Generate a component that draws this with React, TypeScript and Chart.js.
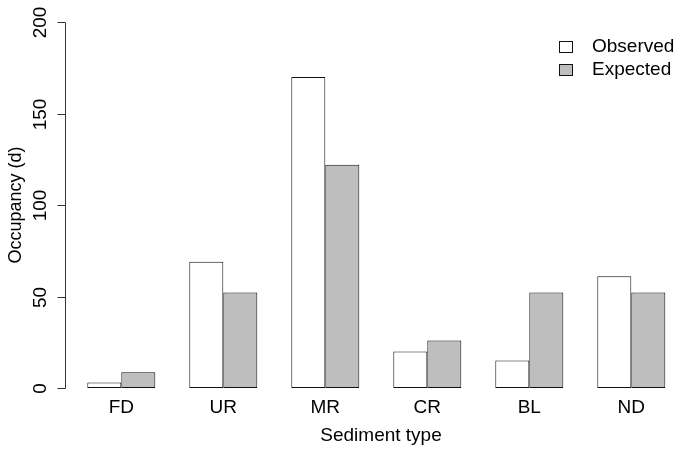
import React, { useEffect, useRef } from "react";
import { Chart, registerables } from "chart.js";

Chart.register(...registerables);

const categories = ["FD", "UR", "MR", "CR", "BL", "ND"];
const observed = [3, 69, 170, 20, 15, 61];
const expected = [8.6, 52.2, 122, 26, 52.2, 52.2];
const yTicks = [0, 50, 100, 150, 200];
const seriesNames = ["Observed", "Expected"];
const xTitle = "Sediment type";
const yTitle = "Occupancy (d)";

const FAMILY = "'Liberation Sans', Arial, Helvetica, sans-serif";
const FONT = "19px " + FAMILY;
const TITLE_FONT = "18px " + FAMILY;
const OBS_FILL = "#ffffff";
const EXP_FILL = "#bebebe";
const EDGE = "#111111";

const decorPlugin = {
  id: "rdecor",
  afterDraw(chart: any) {
    const ctx = chart.ctx;
    const y = chart.scales.y;
    const x = chart.scales.x;
    ctx.save();
    ctx.fillStyle = "#000";
    ctx.strokeStyle = "#333";
    ctx.lineWidth = 1;
    // y axis line
    const axX = 65.5;
    const top = y.getPixelForValue(yTicks[yTicks.length - 1]);
    const bot = y.getPixelForValue(yTicks[0]);
    ctx.beginPath();
    ctx.moveTo(axX, Math.round(top) + 0.5);
    ctx.lineTo(axX, Math.round(bot) + 0.5);
    ctx.stroke();
    ctx.font = FONT;
    ctx.textAlign = "center";
    ctx.textBaseline = "middle";
    yTicks.forEach((t) => {
      const py = Math.round(y.getPixelForValue(t)) + 0.5;
      ctx.beginPath();
      ctx.moveTo(axX, py);
      ctx.lineTo(axX - 8, py);
      ctx.stroke();
      ctx.save();
      ctx.translate(41, py);
      ctx.rotate(-Math.PI / 2);
      ctx.fillText(String(t), 0, 0);
      ctx.restore();
    });
    // y title
    ctx.save();
    ctx.font = TITLE_FONT;
    ctx.translate(16, 205);
    ctx.rotate(-Math.PI / 2);
    ctx.fillText(yTitle, 0, 0);
    ctx.restore();
    // x labels
    categories.forEach((c, i) => {
      const px = x.getPixelForValue(i);
      ctx.fillText(c, px, 408);
    });
    ctx.fillText(xTitle, 381, 436);
    // legend
    const fills = [OBS_FILL, EXP_FILL];
    const ys = [47, 70];
    ctx.textAlign = "left";
    seriesNames.forEach((n, i) => {
      ctx.fillStyle = fills[i];
      ctx.fillRect(559.5, ys[i] - 5.5, 13, 11);
      ctx.strokeStyle = EDGE;
      ctx.strokeRect(559.5, ys[i] - 5.5, 13, 11);
      ctx.fillStyle = "#000";
      ctx.fillText(n, 592, ys[i]);
    });
    ctx.restore();
  },
};

export default function App() {
  const ref = useRef<HTMLCanvasElement>(null);
  useEffect(() => {
    if (!ref.current) return;
    const chart = new Chart(ref.current, {
      type: "bar",
      data: {
        labels: categories,
        datasets: [
          {
            label: seriesNames[0],
            data: observed,
            backgroundColor: OBS_FILL,
            borderColor: EDGE,
            borderWidth: 1,
            borderSkipped: false,
          },
          {
            label: seriesNames[1],
            data: expected,
            backgroundColor: EXP_FILL,
            borderColor: EDGE,
            borderWidth: 1,
            borderSkipped: false,
          },
        ],
      },
      options: {
        responsive: false,
        animation: false,
        devicePixelRatio: 1,
        layout: { padding: { left: 70.3, right: 0.7, top: 22, bottom: 65 } },
        datasets: { bar: { categoryPercentage: 2 / 3, barPercentage: 1 } },
        scales: {
          x: { display: false },
          y: { display: false, min: 0, max: 200 },
        },
        plugins: { legend: { display: false }, tooltip: { enabled: false } },
      },
      plugins: [decorPlugin],
    });
    return () => chart.destroy();
  }, []);
  return (
    <div style={{ position: "fixed", left: 0, top: 0, width: 683, height: 453, background: "#fff" }}>
      <canvas ref={ref} width={683} height={453} />
    </div>
  );
}
